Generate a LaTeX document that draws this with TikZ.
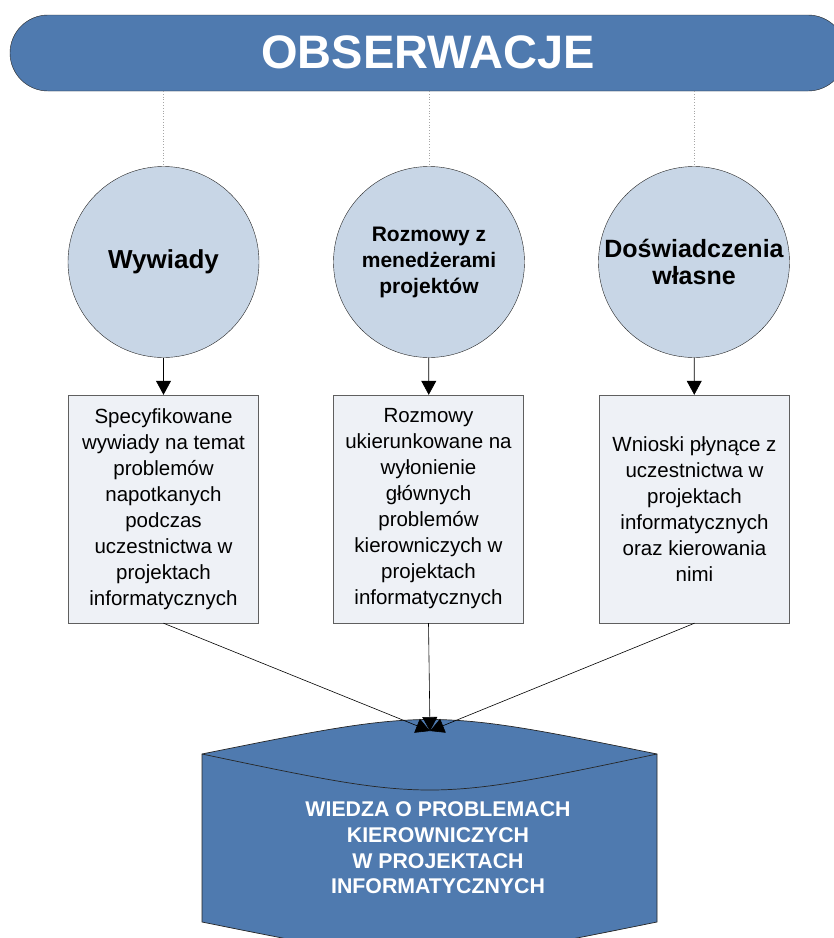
\documentclass[tikz,border=0pt]{standalone}
\usepackage{fontspec}
\setmainfont{Liberation Sans}
\usetikzlibrary{arrows.meta}
\definecolor{bannerblue}{RGB}{79,122,175}
\definecolor{circlefill}{RGB}{200,214,230}
\definecolor{boxfill}{RGB}{238,241,246}
\definecolor{boxline}{RGB}{95,95,95}
\begin{document}
\begin{tikzpicture}[x=1pt,y=-1pt,
  banner/.style={draw=black!85,fill=bannerblue,rounded corners=38pt,
    minimum width=836pt,minimum height=76pt,inner sep=0pt,text=white,
    font=\fontsize{47}{50}\selectfont\bfseries},
  source/.style={circle,draw=black!85,fill=circlefill,minimum size=191pt,
    inner sep=0pt,align=center,font=\fontsize{21}{26}\selectfont\bfseries},
  detail/.style={rectangle,draw=boxline,fill=boxfill,minimum width=190pt,
    minimum height=228pt,inner sep=0pt,align=center,
    font=\fontsize{20.5}{26}\selectfont},
  guide/.style={draw=black!35,dotted,line width=0.8pt},
  arr/.style={draw=black,line width=0.7pt,-{Triangle[length=14pt,width=15pt]}},
  feed/.style={draw=black,line width=0.6pt,-{Triangle[length=14pt,width=15pt]}},
  store/.style={draw=black!85,fill=bannerblue,line width=0.7pt},
  storetext/.style={text=white,align=center,
    font=\fontsize{21.3}{25.6}\selectfont\bfseries}]
\useasboundingbox (0,0) rectangle (834,938);

% header band
\node[banner] (obs) at (428,53) {\raisebox{1.5pt}{OBSERWACJE}};

% three sources of observation
\node[source,font=\fontsize{26}{30}\selectfont\bfseries] (wyw) at (163.5,262) {Wywiady};
\node[source] (rozm) at (429,262) {Rozmowy z\\menedżerami\\projektów};
\node[source,font=\fontsize{25}{27}\selectfont\bfseries] (dosw) at (694,262) {Doświadczenia\\własne};

% dotted guides from the band to the circles
\coordinate (g1) at (163.5,91);
\coordinate (g2) at (429,91);
\coordinate (g3) at (694,91);
\draw[guide] (g1) -- (wyw.north);
\draw[guide] (g2) -- (rozm.north);
\draw[guide] (g3) -- (dosw.north);

% descriptions
\node[detail] (d1) at (163.5,509) {Specyfikowane\\wywiady na temat\\problemów\\napotkanych\\podczas\\uczestnictwa w\\projektach\\informatycznych};
\node[detail] (d2) at (428.5,509) {Rozmowy\\ukierunkowane na\\wyłonienie\\głównych\\problemów\\kierowniczych w\\projektach\\informatycznych};
\node[detail] (d3) at (694.5,509) {Wnioski płynące z\\uczestnictwa w\\projektach\\informatycznych\\oraz kierowania\\nimi};

\draw[arr] (wyw) -- (d1);
\draw[arr] (rozm) -- (d2);
\draw[arr] (dosw) -- (d3);

% knowledge store (cylinder)
\path[store] (202,754) .. controls (430,708) .. (657,754)
  -- (657,922) .. controls (430,968) .. (202,922) -- cycle;
\draw[black!85,line width=0.7pt] (202,754) .. controls (430,802) .. (657,754);
\coordinate (wtop) at (430,731);
\node[storetext] (wiedza) at (438,848) {WIEDZA O PROBLEMACH\\KIEROWNICZYCH\\W PROJEKTACH\\INFORMATYCZNYCH};

\draw[feed] (d1.south) -- (wtop);
\draw[feed] (d2.south) -- (wtop);
\draw[feed] (d3.south) -- (wtop);
\end{tikzpicture}
\end{document}
